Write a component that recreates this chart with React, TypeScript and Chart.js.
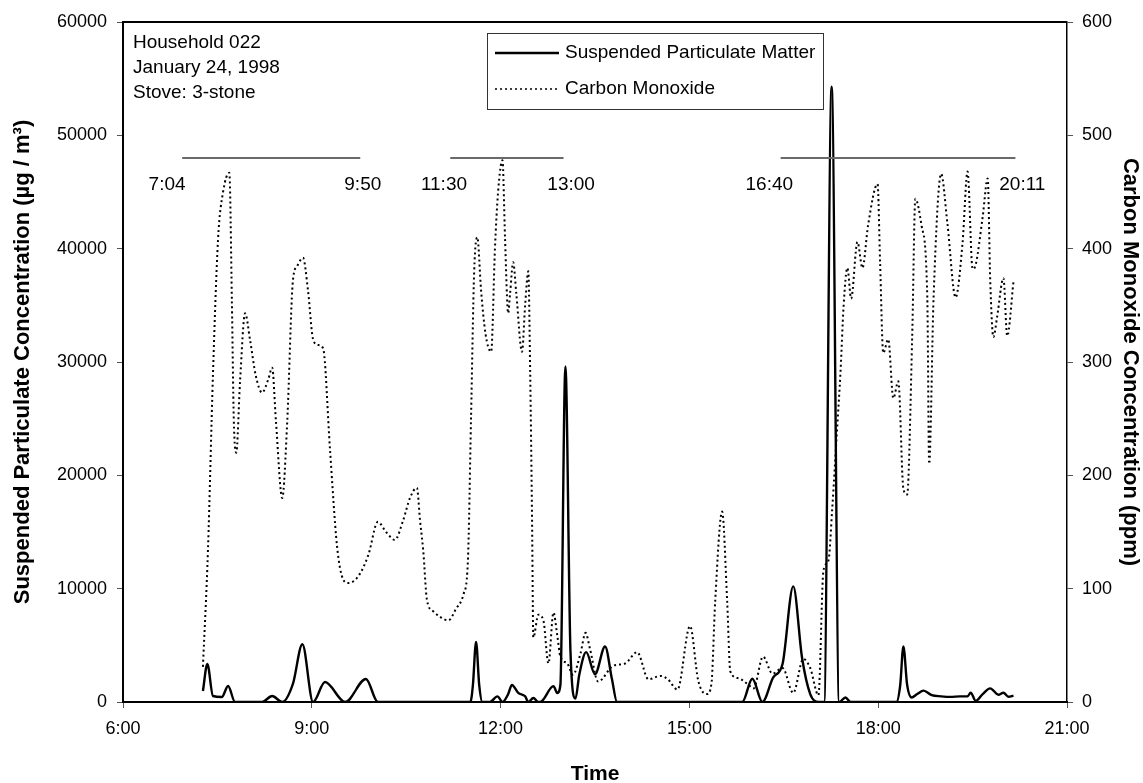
import React, { useEffect, useRef } from 'react';
import { Chart, registerables } from 'chart.js';

Chart.register(...registerables);

// ---- data (time in decimal hours) ----
const spmTimes = [7.27, 7.34, 7.43, 7.57, 7.67, 7.78, 8.21, 8.37, 8.53, 8.70, 8.85, 9.02, 9.21, 9.53, 9.86, 10.05,
  11.52, 11.56, 11.61, 11.66, 11.71, 11.83, 11.95, 12.03, 12.12, 12.18, 12.28, 12.39, 12.44, 12.52, 12.60, 12.66,
  12.84, 12.90, 12.95, 13.03, 13.11, 13.19, 13.25, 13.36, 13.50, 13.66, 13.77, 13.85,
  15.84, 16.00, 16.16, 16.33, 16.48, 16.65, 16.79, 16.92, 17.05, 17.14, 17.26, 17.38, 17.48, 17.56,
  18.29, 18.35, 18.40, 18.46, 18.53, 18.62, 18.72, 18.85, 19.00, 19.15, 19.30, 19.42, 19.47, 19.55,
  19.66, 19.78, 19.91, 19.99, 20.07, 20.15];
const spmValues = [970, 3350, 530, 440, 1410, 0, 0, 530, 0, 1600, 5100, 0, 1770, 0, 2030, 0,
  0, 1500, 5300, 1500, 0, 0, 500, 0, 700, 1500, 800, 500, 0, 350, 0, 100,
  1400, 800, 1500, 29600, 4500, 300, 2400, 4400, 2450, 4900, 2000, 0,
  0, 2050, 0, 2150, 3350, 10200, 3900, 700, 0, 0, 54300, 0, 400, 0,
  0, 1500, 4900, 1500, 400, 700, 1000, 600, 500, 450, 500, 500, 820, 100,
  700, 1200, 640, 820, 460, 570];

const coTimes = [7.27, 7.35, 7.43, 7.51, 7.59, 7.69, 7.73, 7.76, 7.80, 7.86, 7.94, 8.02, 8.11, 8.21, 8.31, 8.37,
  8.43, 8.53, 8.61, 8.70, 8.77, 8.86, 8.94, 9.02, 9.10, 9.18, 9.29, 9.40, 9.50, 9.58, 9.74, 9.90,
  10.05, 10.18, 10.32, 10.45, 10.56, 10.67, 10.72, 10.77, 10.83, 10.93, 11.04, 11.17, 11.29, 11.41, 11.48,
  11.53, 11.58, 11.63, 11.69, 11.76, 11.85, 11.91, 11.96, 12.03, 12.07, 12.12, 12.15, 12.20, 12.25, 12.34,
  12.39, 12.44, 12.47, 12.50, 12.52, 12.60, 12.68, 12.76, 12.84, 12.90, 12.95, 13.06, 13.15, 13.27, 13.35,
  13.42, 13.55, 13.79, 13.98, 14.17, 14.35, 14.54, 14.66, 14.81, 15.01, 15.14, 15.28, 15.35, 15.41, 15.52,
  15.60, 15.65, 15.78, 15.92, 16.02, 16.17, 16.32, 16.48, 16.65, 16.81, 16.92, 17.05, 17.13, 17.21, 17.27,
  17.35, 17.40, 17.45, 17.51, 17.57, 17.67, 17.75, 17.84, 17.99, 18.03, 18.08, 18.16, 18.24, 18.32, 18.40,
  18.46, 18.54, 18.59, 18.69, 18.78, 18.81, 18.88, 19.00, 19.10, 19.23, 19.34, 19.42, 19.50, 19.55, 19.66,
  19.74, 19.78, 19.83, 19.89, 19.99, 20.05, 20.15];
const coValues = [31, 134, 290, 408, 450, 467, 354, 250, 220, 283, 343, 319, 288, 273, 285, 295,
  248, 180, 248, 372, 385, 392, 363, 320, 315, 312, 222, 138, 108, 105, 111, 130,
  159, 150, 143, 160, 180, 189, 160, 134, 90, 80, 75, 72, 82, 95, 124,
  250, 380, 410, 363, 325, 309, 400, 450, 478, 410, 343, 360, 388, 360, 309,
  350, 380, 291, 160, 57, 77, 72, 34, 79, 59, 40, 34, 24, 43, 61,
  47, 18, 32, 34, 44, 20, 23, 20, 11, 67, 19, 7, 16, 89, 168,
  89, 27, 21, 16, 12, 40, 25, 30, 8, 38, 30, 6, 116, 125, 171,
  244, 290, 349, 383, 356, 406, 383, 421, 457, 388, 308, 320, 268, 283, 188,
  183, 322, 444, 420, 357, 210, 357, 466, 422, 357, 405, 468, 382, 386, 428,
  462, 372, 322, 340, 374, 323, 371];

const xTickHours = [6, 9, 12, 15, 18, 21];
const xTickLabels = ['6:00', '9:00', '12:00', '15:00', '18:00', '21:00'];

const periodStarts = [6.94, 11.2, 16.45];
const periodEnds = [9.77, 13.0, 20.18];
const periodStartLabels = ['7:04', '11:30', '16:40'];
const periodEndLabels = ['9:50', '13:00', '20:11'];
const periodLevel = 48000;

const infoLines = ['Household 022', 'January 24, 1998', 'Stove: 3-stone'];
const seriesNames = ['Suspended Particulate Matter', 'Carbon Monoxide'];

// label anchor positions (in hours along the time axis) for the period labels
const startLabelAnchors = [6.70, 11.10, 16.27];
const endLabelAnchors = [9.81, 13.12, 20.29];

const FONT = '"Liberation Sans", Arial, Helvetica, sans-serif';

const overlayPlugin = {
  id: 'overlay',
  afterDatasetsDraw(chart: any) {
    const { ctx, chartArea: a, scales } = chart;
    const xs = scales.x;
    const ys = scales.y;
    ctx.save();
    // top frame line
    ctx.strokeStyle = '#000';
    ctx.lineWidth = 2;
    ctx.beginPath();
    ctx.moveTo(a.left, a.top);
    ctx.lineTo(a.right, a.top);
    ctx.stroke();

    // period bars
    const yb = ys.getPixelForValue(periodLevel);
    ctx.font = `19px ${FONT}`;
    ctx.textBaseline = 'middle';
    ctx.textAlign = 'center';
    periodStarts.forEach((s, i) => {
      const x0 = xs.getPixelForValue(s);
      const x1 = xs.getPixelForValue(periodEnds[i]);
      ctx.strokeStyle = '#6a6a6a';
      ctx.lineWidth = 2;
      ctx.beginPath();
      ctx.moveTo(x0, yb);
      ctx.lineTo(x1, yb);
      ctx.stroke();
      ctx.fillStyle = '#000';
      ctx.fillText(periodStartLabels[i], xs.getPixelForValue(startLabelAnchors[i]), yb + 27);
      ctx.fillText(periodEndLabels[i], xs.getPixelForValue(endLabelAnchors[i]), yb + 27);
    });

    // info text
    ctx.textAlign = 'left';
    ctx.fillStyle = '#000';
    infoLines.forEach((t, i) => {
      ctx.fillText(t, a.left + 10, a.top + 21 + i * 25);
    });

    // legend box
    const lx = 487, ly = 33, lw = 336, lh = 76;
    ctx.strokeStyle = '#333';
    ctx.lineWidth = 1;
    ctx.strokeRect(lx + 0.5, ly + 0.5, lw, lh);
    const rows = [ly + 20, ly + 56];
    chart.data.datasets.forEach((ds: any, i: number) => {
      ctx.strokeStyle = ds.borderColor;
      ctx.lineWidth = i === 0 ? ds.borderWidth : 1.5;
      ctx.setLineDash(ds.borderDash || []);
      ctx.beginPath();
      ctx.moveTo(lx + 8, rows[i]);
      ctx.lineTo(lx + 72, rows[i]);
      ctx.stroke();
      ctx.setLineDash([]);
      ctx.fillStyle = '#000';
      ctx.fillText(seriesNames[i], lx + 78, rows[i]);
    });
    ctx.restore();
  },
};

export default function App() {
  const ref = useRef<HTMLCanvasElement>(null);
  useEffect(() => {
    if (!ref.current) return;
    const spm = spmTimes.map((t, i) => ({ x: t, y: spmValues[i] }));
    const co = coTimes.map((t, i) => ({ x: t, y: coValues[i] }));
    const chart = new Chart(ref.current, {
      type: 'line',
      data: {
        datasets: [
          {
            label: seriesNames[0],
            data: spm,
            yAxisID: 'y',
            borderColor: '#000',
            borderWidth: 2.4,
            pointRadius: 0,
            fill: false,
            cubicInterpolationMode: 'monotone',
          },
          {
            label: seriesNames[1],
            data: co,
            yAxisID: 'y1',
            borderColor: '#000',
            borderWidth: 2,
            borderDash: [2, 3],
            pointRadius: 0,
            fill: false,
            cubicInterpolationMode: 'monotone',
          },
        ],
      },
      options: {
        animation: false,
        responsive: true,
        maintainAspectRatio: false,
        layout: { padding: { top: 22, left: 0, right: 0, bottom: 0 } },
        plugins: { legend: { display: false }, tooltip: { enabled: false } },
        scales: {
          x: {
            type: 'linear',
            min: 6,
            max: 21,
            afterBuildTicks: (s: any) => {
              s.ticks = xTickHours.map((v) => ({ value: v }));
            },
            afterFit: (s: any) => { s.height = 81; },
            ticks: {
              callback: (v: any) => xTickLabels[xTickHours.indexOf(Number(v))] ?? '',
              color: '#000',
              font: { family: FONT, size: 18 },
              padding: 10,
              maxRotation: 0,
            },
            grid: { drawOnChartArea: false, drawTicks: true, tickLength: 6, color: '#555' },
            border: { display: true, color: '#000', width: 2 },
            title: {
              display: true,
              text: 'Time',
              color: '#000',
              font: { family: FONT, size: 21, weight: 'bold' },
              padding: { top: 0, bottom: -4 },
            },
          },
          y: {
            position: 'left',
            min: 0,
            max: 60000,
            afterFit: (s: any) => { s.width = 123; },
            ticks: {
              stepSize: 10000,
              color: '#000',
              font: { family: FONT, size: 18 },
              padding: 10,
              callback: (v: any) => String(v),
            },
            grid: { drawOnChartArea: false, drawTicks: true, tickLength: 6, color: '#555' },
            border: { display: true, color: '#000', width: 2 },
            title: {
              display: true,
              text: 'Suspended Particulate Concentration (\u00b5g / m\u00b3)',
              color: '#000',
              font: { family: FONT, size: 22, weight: 'bold' },
              padding: { top: 10, bottom: 0 },
            },
          },
          y1: {
            position: 'right',
            min: 0,
            max: 600,
            afterFit: (s: any) => { s.width = 76; },
            ticks: {
              stepSize: 100,
              color: '#000',
              font: { family: FONT, size: 18 },
              padding: 9,
              callback: (v: any) => String(v),
            },
            grid: { drawOnChartArea: false, drawTicks: true, tickLength: 6, color: '#555' },
            border: { display: true, color: '#000', width: 1.5 },
            title: {
              display: true,
              text: 'Carbon Monoxide Concentration (ppm)',
              color: '#000',
              font: { family: FONT, size: 22, weight: 'bold' },
              padding: { top: 0, bottom: 0 },
            },
          },
        },
      },
      plugins: [overlayPlugin],
    });
    return () => chart.destroy();
  }, []);

  return (
    <div style={{ position: 'fixed', left: 0, top: 0, width: 1143, height: 783, background: '#fff' }}>
      <canvas ref={ref} />
    </div>
  );
}
